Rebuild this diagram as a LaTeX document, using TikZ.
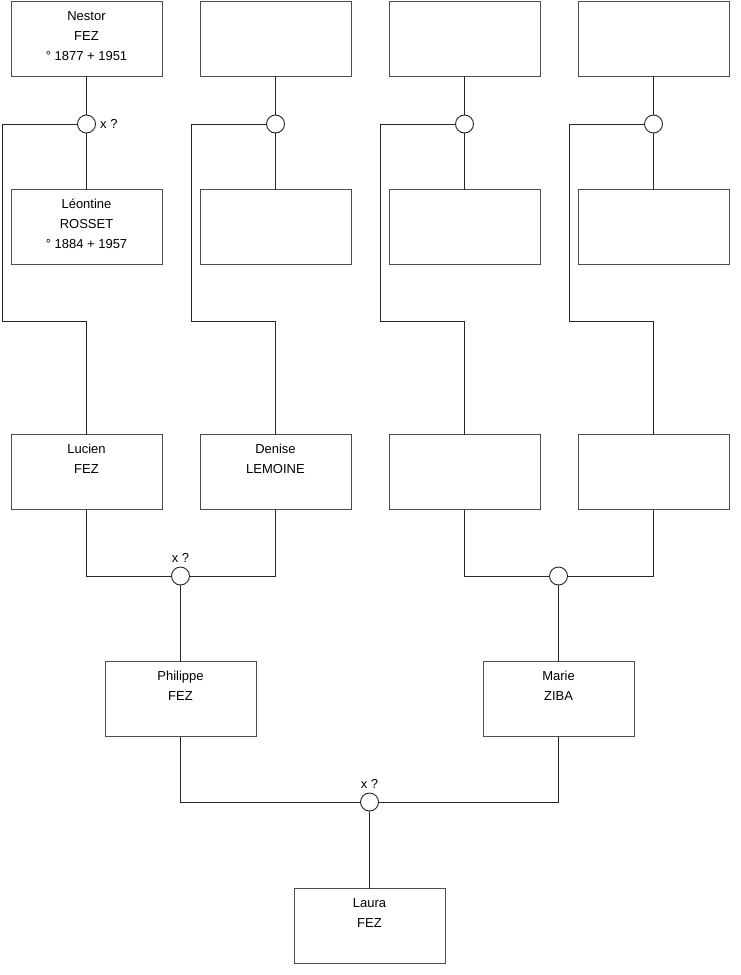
\documentclass[tikz,border=0pt]{standalone}
\usepackage{fontspec}
\setmainfont{Liberation Sans}
% text of a person box, set from the top of the box
\newcommand{\famtext}[1]{\parbox[c][75pt][t]{151pt}{\centering\fontsize{13}{20}\selectfont\rule{0pt}{19pt}#1}}
\providecommand{\famBoxColor}{black!70}
\providecommand{\famLineColor}{black!85}
\providecommand{\famLineWidth}{0.9pt}
\tikzset{
  person/.style={draw=\famBoxColor, line width=\famLineWidth, minimum width=151pt, minimum height=75pt, inner sep=0pt, fill=white},
  union/.style={circle, draw=\famLineColor, line width=\famLineWidth, minimum size=18pt, inner sep=0pt, fill=white},
  link/.style={draw=\famLineColor, line width=\famLineWidth},
  marr/.style={font=\fontsize{13}{15}\selectfont, inner sep=1pt}
}
\begin{document}
\begin{tikzpicture}[x=1pt, y=-1pt, line cap=rect, line join=miter]
\useasboundingbox (0,0) rectangle (740,975);
% Great-grandparents
\node[person] (nestor) at (86.5,38.5) {\famtext{Nestor\\FEZ\\° 1877 + 1951}};
\node[person] (gg2) at (275.5,38.5) {\famtext{}};
\node[person] (gg3) at (464.5,38.5) {\famtext{}};
\node[person] (gg4) at (653.5,38.5) {\famtext{}};
\node[person] (leontine) at (86.5,227) {\famtext{Léontine\\ROSSET\\° 1884 + 1957}};
\node[person] (gg6) at (275.5,227) {\famtext{}};
\node[person] (gg7) at (464.5,227) {\famtext{}};
\node[person] (gg8) at (653.5,227) {\famtext{}};
% Unions of the great-grandparents
\node[union, label={[marr, label distance=3pt]east:x ?}] (u1) at (86.5,124) {};
\node[union] (u2) at (275.5,124) {};
\node[union] (u3) at (464.5,124) {};
\node[union] (u4) at (653.5,124) {};
% Grandparents
\node[person] (lucien) at (86.5,472) {\famtext{Lucien\\FEZ}};
\node[person] (denise) at (275.5,472) {\famtext{Denise\\LEMOINE}};
\node[person] (gp3) at (464.5,472) {\famtext{}};
\node[person] (gp4) at (653.5,472) {\famtext{}};
\node[union, label={[marr, label distance=3pt]north:x ?}] (u5) at (180.5,576) {};
\node[union] (u6) at (558.5,576) {};
% Parents
\node[person] (philippe) at (180.5,699) {\famtext{Philippe\\FEZ}};
\node[person] (marie) at (558.5,699) {\famtext{Marie\\ZIBA}};
\node[union, label={[marr, label distance=3pt]north:x ?}] (u7) at (369.5,802) {};
% Child
\node[person] (laura) at (369.5,926) {\famtext{Laura\\FEZ}};
% Bends of the lines to the children
\coordinate (b1) at (2,321);
\coordinate (b2) at (191,321);
\coordinate (b3) at (380,321);
\coordinate (b4) at (569,321);
\begin{scope}[link]
  % Couples of the top rows
  \draw (nestor) -- (u1);
  \draw (u1) -- (leontine);
  \draw (gg2) -- (u2);
  \draw (u2) -- (gg6);
  \draw (gg3) -- (u3);
  \draw (u3) -- (gg7);
  \draw (gg4) -- (u4);
  \draw (u4) -- (gg8);
  % Children of the top couples
  \draw (u1.west) -| (b1) -| (lucien.north);
  \draw (u2.west) -| (b2) -| (denise.north);
  \draw (u3.west) -| (b3) -| (gp3.north);
  \draw (u4.west) -| (b4) -| (gp4.north);
  % Grandparents
  \draw (lucien.south) |- (u5.west);
  \draw (denise.south) |- (u5.east);
  \draw (gp3.south) |- (u6.west);
  \draw (gp4.south) |- (u6.east);
  \draw (u5) -- (philippe);
  \draw (u6) -- (marie);
  % Parents
  \draw (philippe.south) |- (u7.west);
  \draw (marie.south) |- (u7.east);
  \draw (u7) -- (laura);
\end{scope}
\end{tikzpicture}
\end{document}
